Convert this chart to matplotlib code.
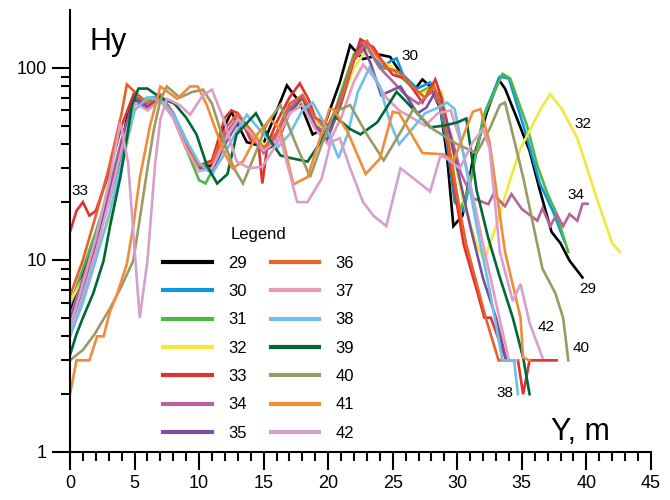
import matplotlib
matplotlib.use('Agg')
import matplotlib.pyplot as plt
from matplotlib.ticker import FixedLocator, NullFormatter

plt.rcParams['font.family'] = ['Liberation Sans', 'DejaVu Sans']

# profile data (Y in m, Hy)
x29 = [0, 1, 2, 3, 4, 4.6, 5, 6, 7, 8, 9, 10, 11, 12, 12.5, 13.7, 14.9, 15.8, 16.8, 17.8, 18.8, 19.6, 20.9, 21.7, 22.7,
       24, 24.8, 25.7, 26.7, 27.3, 27.9, 28.7, 29.2, 29.7, 30.4, 31.2, 32.3, 33.2, 33.7, 34.6, 35.6, 36.4, 37.3, 38, 38.7, 39.7]
y29 = [5.5, 8.5, 13, 22, 40, 63, 68, 62, 72, 58, 40, 30, 31, 50, 59, 41, 39, 55, 81, 66, 45, 48, 84, 131, 111,
       117, 114, 92, 77, 87, 80, 61, 35, 15, 17, 33, 59, 87, 78, 55, 37, 23, 14, 12.2, 9.9, 8.1]

x30 = [0, 1, 2, 3, 4, 5, 6, 7, 8, 9, 10, 11, 12, 13, 14, 15, 16, 17, 18, 19, 20, 21, 22,
       22.8, 23.5, 24.2, 24.8, 25.3, 25.8, 26.9, 27.9, 28.5, 29.2, 29.8, 30.5, 31.2, 32.2, 33.3, 34, 35.2, 36.4, 37.4, 38.3]
y30 = [4.5, 7, 12, 20, 36, 65, 70, 70, 58, 42, 31, 29, 40, 55, 48, 38, 42, 60, 72, 52, 47, 72, 115,
       130, 115, 100, 108, 112, 92, 78, 84, 70, 40, 20, 18, 30, 60, 90, 88, 48, 25, 18, 12.5]

x31 = [0, 1, 2, 3, 4, 5, 6, 7, 8, 9, 10, 10.5, 11, 12, 13, 14, 15, 16, 17, 18, 19, 20, 21, 22, 23, 24, 25, 26, 27, 28,
       28.8, 29.5, 30.2, 31, 32, 33.5, 34.1, 35.4, 36.2, 37, 37.6, 38.6]
y31 = [5.8, 9, 14, 23, 42, 70, 68, 70, 55, 38, 26, 25, 29, 42, 55, 46, 37, 45, 62, 70, 50, 46, 75, 118, 128, 100, 98, 85, 74, 80,
       70, 35, 18, 25, 55, 93, 88, 50, 31, 22, 18, 11]

x32 = [0, 1, 2, 3, 4, 5, 6, 7, 8, 9, 10, 11, 12, 13, 14, 15, 16, 17, 18, 19, 20, 21, 22, 23, 24, 25, 26, 27, 28,
       28.8, 29.5, 30.5, 31.5, 32.1, 33, 34, 34.9, 36.4, 37.2, 38.1, 39.3, 40.8, 42, 42.6]
y32 = [6, 8, 11, 16, 30, 60, 70, 68, 58, 40, 30, 30, 40, 55, 48, 40, 42, 58, 68, 52, 45, 65, 100, 125, 110, 100, 88, 72, 78,
       75, 40, 20, 12, 10, 15, 25, 38, 60, 73, 61, 43, 21, 12.2, 11]

x33 = [0, 0.5, 1, 1.5, 2, 3, 4, 5, 6, 7, 8, 9, 10, 11, 12, 12.5, 13, 14, 14.6, 14.9, 15.3, 16, 17, 17.8, 18.5,
       19, 20, 21, 22, 22.5, 23.5, 24.2, 25, 26, 26.6, 27.3, 28.3, 28.8, 29.5, 30.5, 31.5, 32.1, 32.6, 33.8, 34.7, 35.1, 35.6, 37.7]
y33 = [14, 18, 20, 17, 18, 28, 50, 75, 65, 72, 58, 40, 31, 33, 55, 60, 58, 42, 40, 25, 40, 52, 70, 83, 68,
       55, 50, 70, 110, 141, 128, 108, 92, 88, 77, 66, 87, 69, 30, 12, 7, 5, 5, 3, 3, 2, 3, 3]

x34 = [0, 1, 2, 3, 4, 5, 6, 7, 8, 9, 10, 11, 12, 13, 14, 15, 16, 17, 18, 19, 20, 21, 22, 23, 24, 25, 26, 27, 28,
       28.8, 29.5, 30.3, 31.2, 32.4, 32.8, 33.7, 34.2, 35, 36.2, 36.6, 37.2, 37.7, 38.2, 38.7, 39.3, 39.7, 40.1]
y34 = [5, 8, 13, 22, 42, 70, 62, 68, 55, 38, 30, 30, 45, 55, 45, 36, 44, 62, 70, 50, 45, 70, 110, 130, 100, 85, 72, 65, 75,
       62, 45, 28, 21, 19.5, 22, 19, 22, 18.4, 16, 18.6, 15, 17.3, 15, 17.3, 16, 19.6, 19.6]

x35 = [0, 1, 2, 3, 4, 5, 6, 7, 8, 9, 10, 11, 12, 13, 14, 15, 16, 17, 18, 19, 19.9,
       21, 22, 22.6, 23.3, 24.1, 25.6, 26.9, 27.6, 28.3, 29, 30, 31, 32, 33, 33.8]
y35 = [4.8, 7.5, 12, 21, 40, 70, 63, 70, 56, 40, 30, 29, 40, 52, 47, 37, 40, 58, 70, 50, 42,
       65, 110, 133, 105, 72, 80, 58, 62, 75, 60, 30, 15, 8, 5, 3]

x36 = [0, 1, 2, 3, 4, 4.4, 5, 6, 7, 8, 9, 10, 11, 12, 13, 14, 15, 16, 17, 18, 19, 20, 21, 22, 23,
       23.6, 24.5, 25.5, 26.5, 27.5, 28.2, 29, 29.8, 30.7, 31.4, 32.2, 33.2, 33.6]
y36 = [6.5, 10, 17, 30, 58, 82, 75, 65, 72, 58, 40, 31, 32, 48, 58, 47, 38, 46, 65, 72, 55, 48, 68, 112, 138,
       120, 100, 95, 80, 70, 80, 55, 25, 12, 8, 5, 3, 3]

x37 = [0, 1, 2, 3, 4, 5, 6, 7, 8, 9, 10, 11, 12, 13, 14, 15, 16, 17, 18, 19, 20, 21, 22,
       22.7, 23.5, 24.5, 25.5, 26.5, 27.5, 28.5, 29.5, 30.3, 31, 32, 33, 34, 34.6]
y37 = [4, 6.5, 11, 20, 38, 66, 60, 68, 55, 38, 29, 30, 42, 54, 46, 37, 42, 58, 64, 48, 40, 55, 85,
       104, 90, 70, 60, 55, 50, 58, 60, 40, 25, 12, 6, 3, 3]

x38 = [0, 1, 2, 3, 4, 5, 6, 7, 8, 9, 10, 11, 12, 13, 13.7, 15, 16, 17, 18, 18.8, 19.8, 20.8, 21.5, 22.3, 23.2,
       24, 24.8, 25.5, 26.5, 27.5, 28.5, 29.2, 29.8, 30.5, 31.5, 32.5, 33.5, 34.4, 34.7]
y38 = [4, 6, 10, 17, 32, 60, 70, 68, 58, 42, 32, 28, 36, 48, 57, 45, 38, 45, 60, 66, 50, 34, 45, 75, 100,
       80, 52, 40, 48, 58, 62, 66, 61, 35, 15, 7, 3, 3, 2]

x39 = [0, 0.5, 1, 1.8, 2.6, 3.1, 3.9, 4.4, 4.8, 5.3, 6, 7, 8.1, 9, 9.8, 10.6, 11.4, 12.2, 12.9, 14.4,
       15.5, 16.3, 17, 18.4, 19.4, 20.5, 21.7, 22.5, 23.8, 25.3, 26.9, 27.9, 29, 30, 30.7, 31.5, 32.4, 33.3, 34.3, 35.1, 35.6]
y39 = [3.2, 4.1, 5, 6.7, 9.9, 15, 27, 43, 64, 78, 78, 70, 65, 55, 45, 31, 25, 28, 45, 58,
       42, 35, 34, 32.5, 41, 56, 48, 45, 52, 75, 58, 49, 50, 52, 54.5, 23, 13, 8.1, 5, 3.1, 2]

x40 = [0, 1, 1.9, 3.1, 3.9, 4.9, 5.5, 6, 6.5, 7, 7.5, 8.5, 9.5, 10.3, 11, 12, 12.7, 13.4, 14.3, 15.3,
       16.3, 17.5, 18.6, 19.5, 20.5, 21.7, 23, 24.3, 25.5, 26.6, 28.1, 30, 31.5, 32.5, 33.3, 33.7, 35.1, 36.6, 37.6, 38.2, 38.6]
y40 = [3, 3.4, 4.1, 5.6, 7.1, 9.9, 18, 30, 48, 68, 80, 70, 75, 77, 65, 40, 30, 25, 35, 52,
       64, 40, 27, 40, 59, 64, 45, 33, 45, 61, 48, 40, 36, 48, 64, 66, 27, 9, 6.7, 5, 3]

x41 = [0, 0.5, 1.5, 2.1, 2.6, 3.1, 3.6, 4.4, 4.9, 5.4, 6.2, 7, 8.3, 9.3, 9.9, 10.6, 11.9, 12.6, 13.4, 14.5,
       15.5, 16.3, 17.3, 18.4, 20.1, 20.4, 21.5, 22.9, 24, 25, 25.5, 27.3, 28.9, 29.7, 31.2, 31.8, 32.5, 33.7, 34.9, 35.1, 35.6]
y41 = [2, 3, 3, 4, 4, 5.4, 6.5, 9.5, 15, 26.6, 50, 80, 69, 80, 80, 64, 36.6, 30, 32.6, 45,
       54, 48, 24.7, 27, 61, 61, 46.5, 28, 33.6, 59, 58, 36, 35.5, 32.6, 59, 61, 41, 11, 5, 3.1, 3]

x42 = [0, 1, 2, 3, 3.9, 4.5, 5.4, 6, 6.6, 7, 7.5, 8.5, 9.3, 10.3, 11, 11.9, 12.9, 13.9, 14.9, 16.3,
       17.6, 18.4, 19.5, 20.2, 20.9, 21.7, 22.7, 23.5, 24.5, 25.6, 26.6, 27.9, 28.7, 29.2, 30.2,
       31.2, 32, 32.5, 33.3, 34.3, 34.9, 35.6, 36.6]
y42 = [4.5, 7.5, 13, 25, 52, 32, 5, 9.9, 32, 54, 69, 64, 57, 72, 77, 54, 32.6, 30, 30.6, 43,
       20, 20, 26.6, 41, 43, 30, 20, 17, 15, 30, 26.6, 22.7, 35, 33.6, 30,
       41, 48, 38, 11, 6.1, 7.5, 4.7, 3.1]

names = ['29', '30', '31', '32', '33', '34', '35', '36', '37', '38', '39', '40', '41', '42']
colors = ['#000000', '#0b98de', '#4cb848', '#f2e83a', '#e2312e', '#b5649f', '#7b4f9b',
          '#e8602c', '#e99ab8', '#6cc0eb', '#006838', '#9a9a62', '#f08c3a', '#d6a0cb']
xs = [x29, x30, x31, x32, x33, x34, x35, x36, x37, x38, x39, x40, x41, x42]
ys = [y29, y30, y31, y32, y33, y34, y35, y36, y37, y38, y39, y40, y41, y42]

# labels written next to the curves
tag_text = ['33', '30', '32', '34', '29', '42', '40', '38']
tag_x = [0.8, 26.3, 39.7, 39.2, 40.1, 36.9, 39.6, 33.7]
tag_y = [22.8, 115, 50.7, 21.7, 7.07, 4.5, 3.46, 2.02]

fig = plt.figure(figsize=(6.7, 5), dpi=100)
ax = fig.add_axes([0.1045, 0.096, 0.867, 0.884])

for name, c, x, y in zip(names, colors, xs, ys):
    ax.plot(x, y, color=c, lw=1.9, label=name, solid_joinstyle='miter')

for t, tx, ty in zip(tag_text, tag_x, tag_y):
    ax.text(tx, ty, t, fontsize=11, ha='center', va='center')

ax.set_yscale('log')
ax.set_xlim(0, 45)
ax.set_ylim(1, 200)

ax.spines['top'].set_visible(False)
ax.spines['right'].set_visible(False)
ax.spines['left'].set_linewidth(1.5)
ax.spines['bottom'].set_linewidth(1.5)

ax.xaxis.set_major_locator(FixedLocator(range(0, 46, 5)))
ax.xaxis.set_minor_locator(FixedLocator(range(0, 46)))
ax.yaxis.set_major_locator(FixedLocator([1, 10, 100]))
ax.yaxis.set_minor_locator(FixedLocator([2, 3, 4, 5, 6, 7, 8, 9, 20, 30, 40, 50, 60, 70, 80, 90]))
ax.yaxis.set_minor_formatter(NullFormatter())
ax.set_yticklabels(['1', '10', '100'])
ax.tick_params(which='major', length=13, width=1.5, labelsize=13, direction='out')
ax.tick_params(which='minor', length=6.5, width=1.5, direction='out')

ax.text(0.066, 0.928, 'Hy', transform=ax.transAxes, fontsize=22, ha='center', va='center')
ax.text(0.878, 0.045, 'Y, m', transform=ax.transAxes, fontsize=22, ha='center', va='center')

leg = ax.legend(ncol=2, title='Legend', frameon=False, fontsize=12, title_fontsize=12,
                loc='upper left', bbox_to_anchor=(0.135, 0.542), handlelength=2.9,
                handletextpad=1.0, columnspacing=1.4, labelspacing=0.8)
for h in leg.get_lines():
    h.set_linewidth(3)

plt.savefig('out.png', dpi=100)
